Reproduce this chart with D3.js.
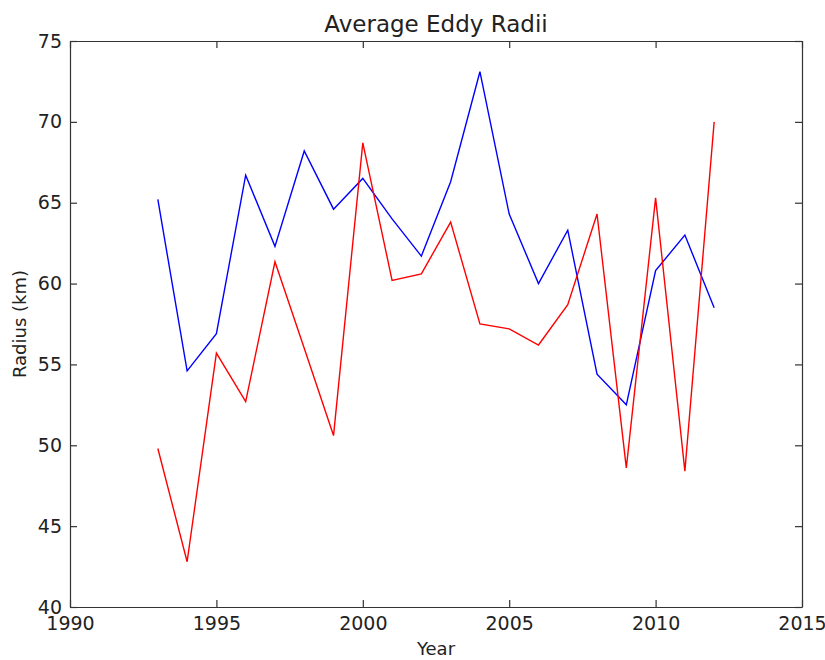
<!DOCTYPE html>
<html>
<head>
<meta charset="utf-8">
<script src="https://cdn.jsdelivr.net/npm/d3@7"></script>
<style>
  body { margin: 0; background: #fff; }
  text { font-family: "DejaVu Sans", sans-serif; fill: #222; }
</style>
</head>
<body>
<div id="chart"></div>
<script>
// yearly averages
const years = [1993, 1994, 1995, 1996, 1997, 1998, 1999, 2000, 2001, 2002,
               2003, 2004, 2005, 2006, 2007, 2008, 2009, 2010, 2011, 2012];
const blueRadii = [65.2, 54.6, 56.9, 66.7, 62.3, 68.2, 64.6, 66.5, 64.0, 61.7,
                   66.3, 73.1, 64.3, 60.0, 63.3, 54.4, 52.5, 60.8, 63.0, 58.5];
const redRadii = [49.8, 42.8, 55.7, 52.7, 61.35, 56.0, 50.6, 68.7, 60.2, 60.6,
                  63.8, 57.5, 57.2, 56.2, 58.7, 64.3, 48.6, 65.3, 48.4, 70.0];
const xTicks = [1990, 1995, 2000, 2005, 2010, 2015];
const yTicks = [40, 45, 50, 55, 60, 65, 70, 75];

var margin = {top: 41, right: 23, bottom: 53, left: 70},
    width = 825 - margin.left - margin.right,
    height = 660 - margin.top - margin.bottom;

var svg = d3.select("#chart")
  .append("svg")
    .attr("width", 825)
    .attr("height", 660)
  .append("g")
    .attr("transform", "translate(" + margin.left + "," + margin.top + ")");

var x = d3.scaleLinear().domain([1990, 2015]).range([0, width]);
var y = d3.scaleLinear().domain([40, 75]).range([height, 0]);

var line = d3.line()
  .x(function(d) { return x(d[0]); })
  .y(function(d) { return y(d[1]); });

// blue drawn first, red on top
[[blueRadii, "#0000ff"], [redRadii, "#ff0000"]].forEach(function(s) {
  svg.append("path")
    .datum(years.map(function(yr, i) { return [yr, s[0][i]]; }))
    .attr("d", line)
    .style("fill", "none")
    .style("stroke", s[1])
    .style("stroke-width", 1.4)
    .style("stroke-linejoin", "miter");
});

// matplotlib classic style: ticks pointing inward on all four sides
var tickLen = 7;
svg.append("g")
  .attr("transform", "translate(0," + height + ")")
  .call(d3.axisBottom(x).tickValues(xTicks).tickFormat(d3.format("d"))
        .tickSizeInner(-tickLen).tickSizeOuter(0).tickPadding(10));
svg.append("g")
  .call(d3.axisTop(x).tickValues(xTicks).tickFormat("")
        .tickSizeInner(-tickLen).tickSizeOuter(0));
svg.append("g")
  .call(d3.axisLeft(y).tickValues(yTicks)
        .tickSizeInner(-tickLen).tickSizeOuter(0).tickPadding(8));
svg.append("g")
  .attr("transform", "translate(" + width + ",0)")
  .call(d3.axisRight(y).tickValues(yTicks).tickFormat("")
        .tickSizeInner(-tickLen).tickSizeOuter(0));

svg.selectAll(".domain, .tick line")
  .style("stroke", "#333")
  .style("stroke-width", 1.2);
svg.selectAll(".tick text")
  .style("font-size", "19px")
  .style("font-family", "'DejaVu Sans', sans-serif")
  .style("fill", "#222");

// title and axis labels
svg.append("text")
  .attr("x", width / 2)
  .attr("y", -9)
  .style("text-anchor", "middle")
  .style("font-size", "23px")
  .text("Average Eddy Radii");

svg.append("text")
  .attr("x", width / 2)
  .attr("y", height + 48)
  .style("text-anchor", "middle")
  .style("font-size", "18px")
  .text("Year");

svg.append("text")
  .attr("transform", "translate(" + (-44) + "," + (height / 2) + ") rotate(-90)")
  .style("text-anchor", "middle")
  .style("font-size", "18px")
  .text("Radius (km)");
</script>
</body>
</html>
